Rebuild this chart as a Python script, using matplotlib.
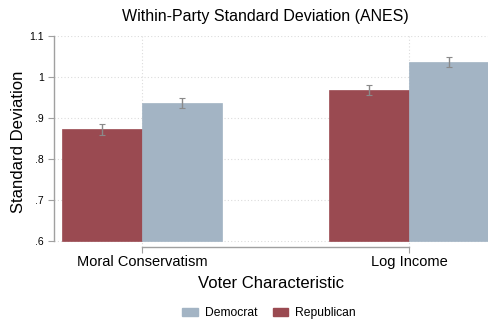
import matplotlib
matplotlib.use("Agg")
import matplotlib.pyplot as plt
from matplotlib.patches import Patch

plt.rcParams['font.family'] = ['Liberation Sans', 'DejaVu Sans']

categories = ["Moral Conservatism", "Log Income"]
republican = [0.872, 0.969]
democrat = [0.936, 1.037]
rep_err = [0.013, 0.012]
dem_err = [0.012, 0.012]
yticks = [0.6, 0.7, 0.8, 0.9, 1.0, 1.1]
ytick_labels = [".6", ".7", ".8", ".9", "1", "1.1"]

W, H = 489, 321
fig = plt.figure(figsize=(W/100, H/100), dpi=100)
left, right, top, bottom = 54, 489, 36, 247
ax = fig.add_axes([left/W, 1-bottom/H, (right-left)/W, (bottom-top)/H])

red = "#9a4a51"
blue = "#a3b4c4"
w = 0.3
x = list(range(len(categories)))
base = 0.6
ax.bar([i - w/2 for i in x], [v - base for v in republican], bottom=base, width=w,
       color=red, edgecolor=red, linewidth=0.5, zorder=2)
ax.bar([i + w/2 for i in x], [v - base for v in democrat], bottom=base, width=w,
       color=blue, edgecolor=blue, linewidth=0.5, zorder=2)
ax.errorbar([i - w/2 for i in x], republican, yerr=rep_err, fmt='none', ecolor="#8a8a8a",
            elinewidth=1.0, capsize=2, capthick=0.8, zorder=3)
ax.errorbar([i + w/2 for i in x], democrat, yerr=dem_err, fmt='none', ecolor="#8a8a8a",
            elinewidth=1.0, capsize=2, capthick=0.8, zorder=3)

ax.set_xlim(-0.33, 1.30)
ax.set_ylim(0.585, 1.1)

for y in yticks:
    ax.axhline(y, color="#dcdcdc", linestyle=(0, (1, 2)), linewidth=0.8, zorder=1)
for xi in x:
    ax.axvline(xi, color="#dcdcdc", linestyle=(0, (1, 2)), linewidth=0.8, zorder=1)

ax.set_yticks(yticks)
ax.set_yticklabels(ytick_labels, fontsize=7.5)
ax.set_xticks(x)
ax.set_xticklabels(categories, fontsize=10.5)
for s in ["top", "right"]:
    ax.spines[s].set_visible(False)
ax.spines["left"].set_bounds(0.6, 1.1)
ax.spines["bottom"].set_bounds(0, 1)
for s in ["left", "bottom"]:
    ax.spines[s].set_color("#a0a0a0")
    ax.spines[s].set_linewidth(1.0)
ax.tick_params(axis='both', colors="#a0a0a0", labelcolor="black", length=4, width=0.8)
ax.tick_params(axis='x', pad=1.5)

ax.set_ylabel("Standard Deviation", fontsize=12, labelpad=2)
ax.set_xlabel("Voter Characteristic", fontsize=12, labelpad=5)

fig.text(265/W, 1-16/H, "Within-Party Standard Deviation (ANES)", ha="center", va="center", fontsize=11.5)

handles = [Patch(color=blue, label="Democrat"), Patch(color=red, label="Republican")]
fig.legend(handles=handles, loc="center", bbox_to_anchor=(269/W, 1-313/H), ncol=2,
           frameon=False, fontsize=8.7, handlelength=1.3, handleheight=0.7, columnspacing=1.3,
           handletextpad=0.55)

fig.savefig("out.png", dpi=100)
